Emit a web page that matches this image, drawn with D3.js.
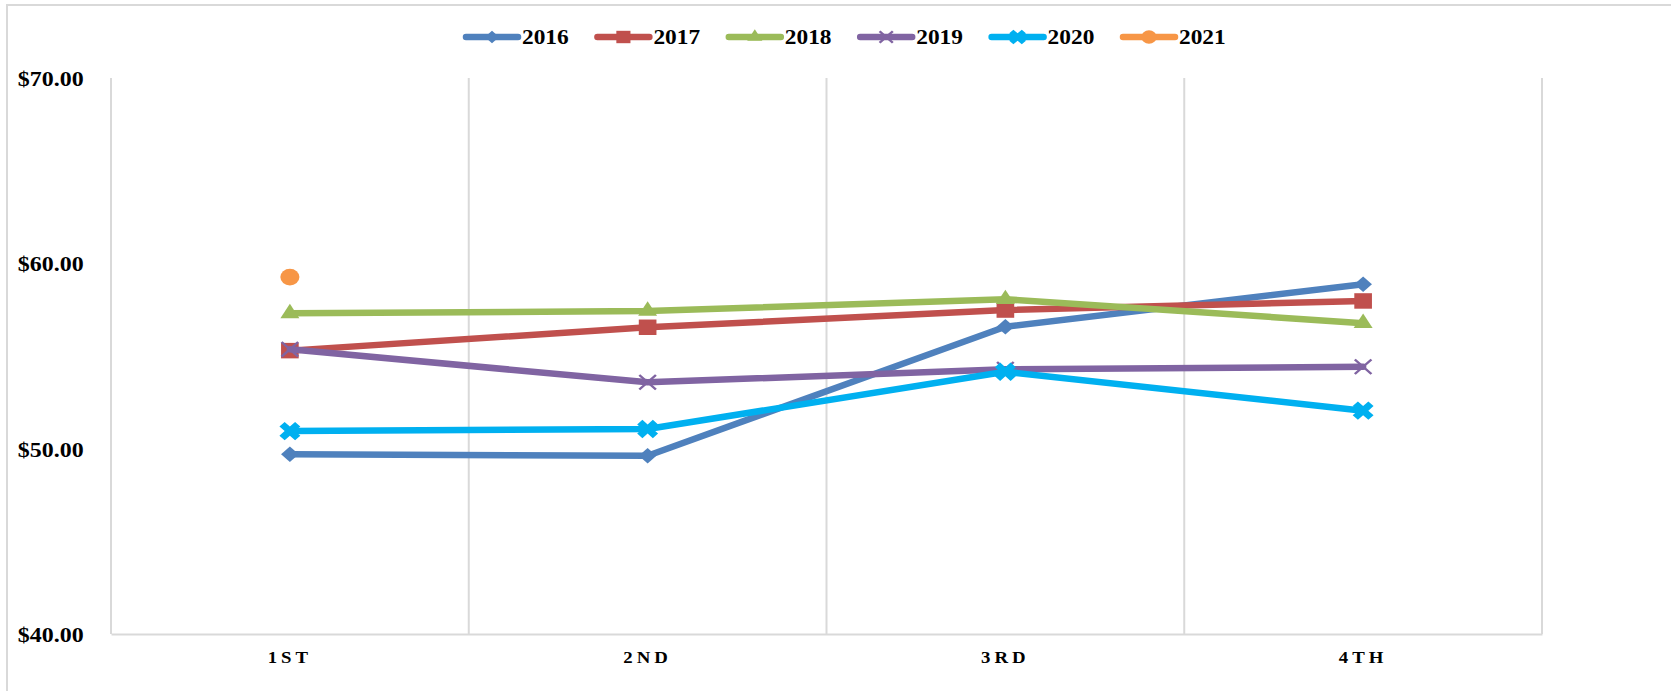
<!DOCTYPE html>
<html>
<head>
<meta charset="utf-8">
<script src="https://cdn.jsdelivr.net/npm/d3@7"></script>
<style>
  body { margin: 0; background: #fff; }
  text { font-family: "Liberation Serif", "Times New Roman", serif; font-weight: bold; fill: #000; }
</style>
</head>
<body>
<div id="chart"></div>
<script>
// quarter categories and yearly series
const categories = ['1ST', '2ND', '3RD', '4TH'];
const years = ['2016', '2017', '2018', '2019', '2020', '2021'];
const v2016 = [49.70, 49.62, 56.58, 58.87];
const v2017 = [55.29, 56.55, 57.48, 57.97];
const v2018 = [57.30, 57.43, 58.06, 56.77];
const v2019 = [55.36, 53.58, 54.28, 54.42];
const v2020 = [50.95, 51.06, 54.15, 52.05];
const v2021 = [59.26, null, null, null];
const yTicks = [40, 50, 60, 70];

const seriesValues = [v2016, v2017, v2018, v2019, v2020, v2021];
const colors = ['#4F81BD', '#C0504D', '#9BBB59', '#8064A2', '#00B0F0', '#F79646'];
const markers = ['diamond', 'square', 'triangle', 'x', 'thickx', 'circle'];

const W = 1671, H = 691;
const margin = { left: 111, right: 129, top: 78, bottom: 57 };
const stretch = 1.14; // the original picture is widened a bit
const grid = '#D9D9D9';

const svg = d3.select('#chart')
  .append('svg')
  .attr('width', W)
  .attr('height', H);

// outer frame (only top and left edges show)
svg.append('path')
  .attr('d', `M7,${H}V5H${W}`)
  .attr('fill', 'none')
  .attr('stroke', grid)
  .attr('stroke-width', 2);

const x = d3.scaleBand()
  .domain(categories)
  .range([margin.left, W - margin.right])
  .padding(0);

const y = d3.scaleLinear()
  .domain([40, 70])
  .range([H - margin.bottom, margin.top]);

const cx = d => x(d) + x.bandwidth() / 2;

// vertical gridlines at category boundaries
const edges = categories.map(c => x(c)).concat([x.range()[1]]);
svg.append('g')
  .selectAll('line')
  .data(edges)
  .enter()
  .append('line')
  .attr('x1', d => d)
  .attr('x2', d => d)
  .attr('y1', y(70))
  .attr('y2', y(40))
  .attr('stroke', grid)
  .attr('stroke-width', 2);

// bottom axis
const xAxisG = svg.append('g')
  .attr('transform', 'translate(0,' + y(40) + ')')
  .call(d3.axisBottom(x).tickSize(0).tickSizeOuter(0));
xAxisG.select('.domain')
  .attr('stroke', grid)
  .attr('stroke-width', 2);
xAxisG.selectAll('text')
  .attr('y', 29.5)
  .attr('dy', null)
  .attr('transform', `scale(${stretch},1)`)
  .style('font-size', '16.5px')
  .style('letter-spacing', '3.5px')
  .style('font-family', '"Liberation Serif", serif')
  .style('font-weight', 'bold')
  .attr('fill', '#000');

// left axis labels
const yAxisG = svg.append('g')
  .attr('transform', 'translate(' + margin.left + ',0)')
  .call(d3.axisLeft(y)
    .tickValues(yTicks)
    .tickFormat(d3.format('$.2f'))
    .tickSize(0)
    .tickPadding(24));
yAxisG.select('.domain').remove();
yAxisG.selectAll('text')
  .attr('dy', '0.36em')
  .attr('transform', `scale(${stretch},1)`)
  .style('font-size', '21px')
  .style('font-family', '"Liberation Serif", serif')
  .style('font-weight', 'bold')
  .attr('fill', '#000');

function markerPath(type, k) {
  if (type === 'diamond') return d3.symbol(d3.symbolSquare, 120 * k * k)();
  if (type === 'square') return d3.symbol(d3.symbolSquare, 240 * k * k)();
  if (type === 'triangle') return d3.symbol(d3.symbolTriangle, 120 * k * k)();
  if (type === 'circle') return d3.symbol(d3.symbolCircle, 220 * k * k)();
  if (type === 'x') return d3.symbol(d3.symbolTimes, 140 * k * k)();
  if (type === 'thickx') return d3.symbol(d3.symbolCross, 210 * k * k)();
  return null;
}

function drawMarker(g, type, color, px, py, k) {
  const rot = (type === 'diamond' || type === 'thickx') ? ' rotate(45)' : '';
  const p = g.append('path')
    .attr('d', markerPath(type, k))
    .attr('transform', `translate(${px},${py}) scale(${stretch},1)${rot}`);
  if (type === 'x') {
    p.attr('fill', 'none').attr('stroke', color).attr('stroke-width', 2.2);
  } else {
    p.attr('fill', color);
  }
}

const line = d3.line()
  .defined(d => d.v != null)
  .x(d => cx(d.c))
  .y(d => y(d.v));

// one series at a time: line then markers
years.forEach((yr, i) => {
  const pts = categories.map((c, j) => ({ c: c, v: seriesValues[i][j] }));
  const g = svg.append('g');
  g.append('path')
    .datum(pts)
    .attr('d', line)
    .attr('fill', 'none')
    .attr('stroke', colors[i])
    .attr('stroke-width', 6.5)
    .attr('stroke-linejoin', 'round')
    .attr('stroke-linecap', 'round');
  pts.filter(d => d.v != null).forEach(d => {
    drawMarker(g, markers[i], colors[i], cx(d.c), y(d.v), 1);
  });
});

// legend
const legendX = 463, legendY = 37, legendStep = 131.4, legendLine = 58;
const legend = svg.append('g');
years.forEach((yr, i) => {
  const lx = legendX + i * legendStep;
  const g = legend.append('g');
  g.append('line')
    .attr('x1', lx + 3)
    .attr('x2', lx + legendLine - 3)
    .attr('y1', legendY)
    .attr('y2', legendY)
    .attr('stroke', colors[i])
    .attr('stroke-width', 6.5)
    .attr('stroke-linecap', 'round');
  drawMarker(g, markers[i], colors[i], lx + legendLine / 2, legendY, 0.8);
  g.append('text')
    .attr('transform', `translate(${lx + legendLine + 1},${legendY + 7}) scale(${stretch},1)`)
    .style('font-size', '20.5px')
    .text(yr);
});
</script>
</body>
</html>
